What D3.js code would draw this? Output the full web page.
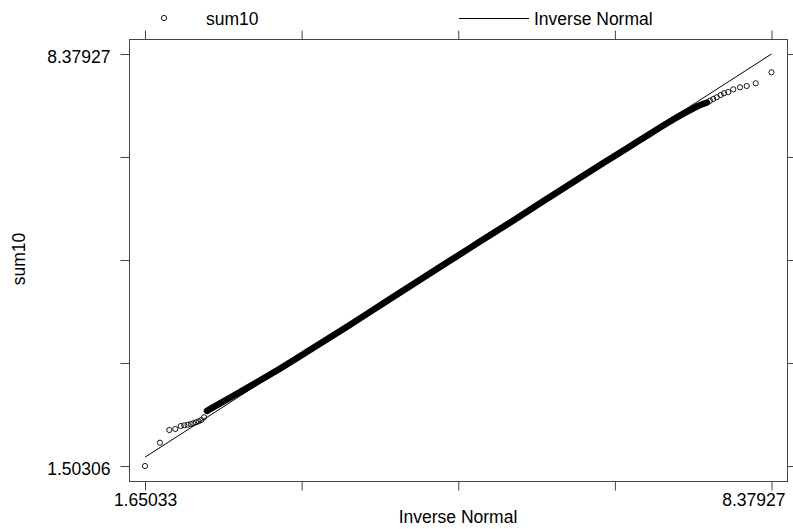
<!DOCTYPE html>
<html>
<head>
<meta charset="utf-8">
<script src="https://cdn.jsdelivr.net/npm/d3@7"></script>
<style>
body { margin: 0; background: #fff; }
text { font-family: "Liberation Sans", Arial, sans-serif; }
</style>
</head>
<body>
<div id="chart"></div>
<script>
const xTicks = [1.65033, 3.332565, 5.0148, 6.697035, 8.37927];
const yTicks = [1.50306, 3.222113, 4.941165, 6.660218, 8.37927];
const xTickLabels = ["1.65033", "", "", "", "8.37927"];
const yTickLabels = ["1.50306", "", "", "", "8.37927"];

// single markers in the tails (inverse normal, sum10)
const tailQ = [1.65033, 1.811, 1.911, 1.976, 2.034, 2.072, 2.109, 2.141, 2.169, 2.198, 2.227, 2.255, 2.284,
               7.719, 7.754, 7.791, 7.834, 7.869, 7.915, 7.969, 8.041, 8.113, 8.210, 8.37927];
const tailSum = [1.50306, 1.892, 2.104, 2.121, 2.171, 2.182, 2.192, 2.204, 2.216, 2.232, 2.249, 2.271, 2.316,
                 7.600, 7.628, 7.657, 7.695, 7.724, 7.745, 7.790, 7.824, 7.845, 7.890, 8.074];

// the middle, where the markers run together
const bandQ = [2.316, 2.381, 2.671, 3.025, 3.455, 3.820, 4.174, 4.529, 4.894, 5.248,
               5.603, 5.968, 6.323, 6.677, 6.967, 7.257, 7.429, 7.579, 7.686];
const bandSum = [2.424, 2.481, 2.738, 3.058, 3.472, 3.828, 4.182, 4.537, 4.899, 5.248,
                 5.598, 5.963, 6.315, 6.660, 6.942, 7.224, 7.379, 7.504, 7.569];

const normalEnds = [1.65033, 8.37927];

const width = 793, height = 529;
const frame = { left: 129, right: 787, top: 39, bottom: 481 };

const svg = d3.select("#chart").append("svg")
    .attr("width", width)
    .attr("height", height);

const x = d3.scaleLinear().domain([1.65033, 8.37927]).range([145, 771.5]);
const y = d3.scaleLinear().domain([1.50306, 8.37927]).range([466, 54]);

// frame
svg.append("rect")
    .attr("x", frame.left + 0.5)
    .attr("y", frame.top + 0.5)
    .attr("width", frame.right - frame.left)
    .attr("height", frame.bottom - frame.top)
    .attr("fill", "none")
    .attr("stroke", "#444")
    .attr("stroke-width", 1);

function styleAxis(g) {
    g.select(".domain").remove();
    g.selectAll("line").attr("stroke", "#444").attr("stroke-width", 1);
    g.selectAll("text")
        .attr("fill", "#000")
        .style("font-size", "17.5px")
        .style("font-family", "'Liberation Sans', Arial, sans-serif");
}

const xAxis = svg.append("g")
    .attr("transform", `translate(0,${frame.bottom + 0.5})`)
    .call(d3.axisBottom(x).tickValues(xTicks).tickSize(9).tickPadding(3.5)
        .tickFormat((d, i) => xTickLabels[i]))
    .call(styleAxis);
// last label is pulled in so it stays inside the page
xAxis.selectAll("text")
    .filter((d, i) => i === xTicks.length - 1)
    .attr("text-anchor", "end")
    .attr("x", 13.5);

svg.append("g")
    .attr("transform", `translate(0,${frame.top + 0.5})`)
    .call(d3.axisTop(x).tickValues(xTicks).tickSize(9).tickFormat(""))
    .call(styleAxis);

const yAxis = svg.append("g")
    .attr("transform", `translate(${frame.left + 0.5},0)`)
    .call(d3.axisLeft(y).tickValues(yTicks).tickSize(9).tickPadding(10)
        .tickFormat((d, i) => yTickLabels[i]))
    .call(styleAxis);
yAxis.selectAll("text").attr("dy", "8.5px");

svg.append("g")
    .attr("transform", `translate(${frame.right + 0.5},0)`)
    .call(d3.axisRight(y).tickValues(yTicks).tickSize(7).tickFormat(""))
    .call(styleAxis);

// axis titles
svg.append("text")
    .attr("x", 458)
    .attr("y", 523)
    .attr("text-anchor", "middle")
    .attr("fill", "#000")
    .style("font-size", "17.5px")
    .text("Inverse Normal");

svg.append("text")
    .attr("transform", "translate(25,259) rotate(-90)")
    .attr("text-anchor", "middle")
    .attr("fill", "#000")
    .style("font-size", "17.5px")
    .text("sum10");

// reference line
const line = d3.line()
    .x(d => x(d))
    .y(d => y(d));

svg.append("path")
    .attr("d", line(normalEnds))
    .attr("fill", "none")
    .attr("stroke", "#000")
    .attr("stroke-width", 1);

// dense band of markers
const band = d3.line()
    .x((d, i) => x(bandQ[i]))
    .y((d, i) => y(bandSum[i]))
    .curve(d3.curveMonotoneX);

svg.append("path")
    .attr("d", band(bandQ))
    .attr("fill", "none")
    .attr("stroke", "#000")
    .attr("stroke-width", 6.5)
    .attr("stroke-linecap", "round");

// tail markers
svg.append("g").selectAll("circle")
    .data(tailQ)
    .join("circle")
    .attr("cx", d => x(d))
    .attr("cy", (d, i) => y(tailSum[i]))
    .attr("r", 2.6)
    .attr("fill", "none")
    .attr("stroke", "#000")
    .attr("stroke-width", 0.9);

// legend
const legend = svg.append("g");
legend.append("circle")
    .attr("cx", 164)
    .attr("cy", 18)
    .attr("r", 2.6)
    .attr("fill", "none")
    .attr("stroke", "#000")
    .attr("stroke-width", 0.9);
legend.append("text")
    .attr("x", 206)
    .attr("y", 24.5)
    .attr("fill", "#000")
    .style("font-size", "17.5px")
    .text("sum10");
legend.append("line")
    .attr("x1", 459)
    .attr("x2", 529)
    .attr("y1", 18.5)
    .attr("y2", 18.5)
    .attr("stroke", "#000")
    .attr("stroke-width", 1);
legend.append("text")
    .attr("x", 534)
    .attr("y", 24.5)
    .attr("fill", "#000")
    .style("font-size", "17.5px")
    .text("Inverse Normal");
</script>
</body>
</html>
